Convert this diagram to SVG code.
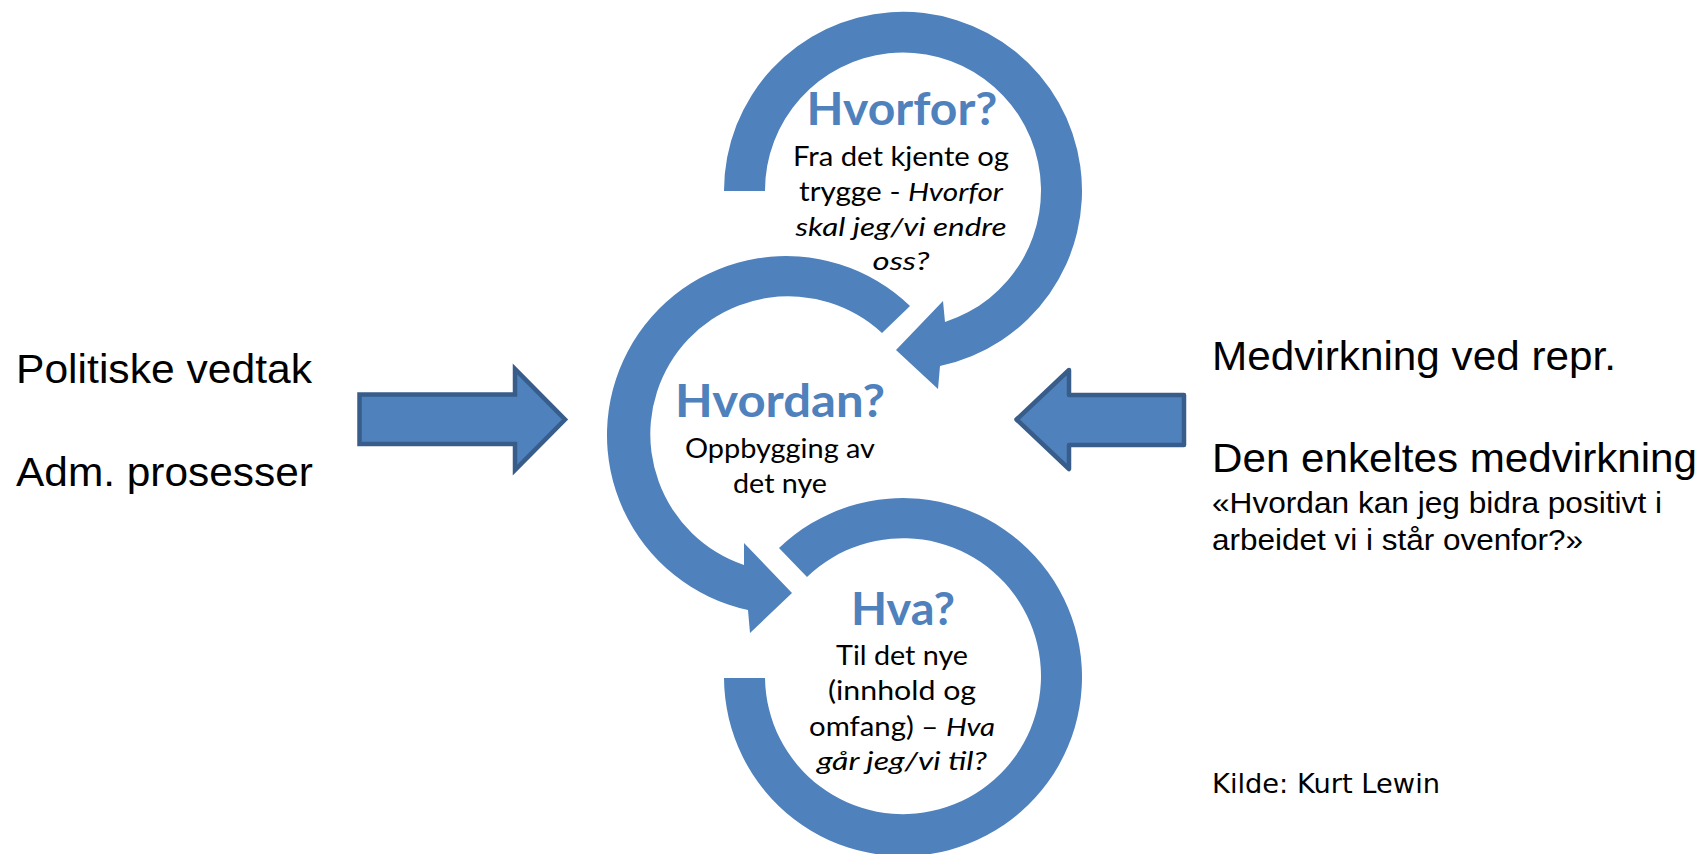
<svg xmlns="http://www.w3.org/2000/svg" width="1704" height="854" viewBox="0 0 1704 854">
  <style>
    .ring { fill: #4F81BD; stroke: none; }
    .block { fill: #4F81BD; stroke: #385D8A; stroke-width: 4.5; stroke-linejoin: miter; }
    .head { font-family: Lato, "Liberation Sans", sans-serif; font-weight: bold; font-size: 45px; fill: #4F81BD; text-anchor: middle; }
    .body { font-family: Lato, "Liberation Sans", sans-serif; font-size: 26px; fill: #000; text-anchor: middle; }
    .it { font-style: italic; }
    .big { font-family: "Liberation Sans", Arial, sans-serif; font-size: 40.5px; fill: #000; }
    .quote { font-family: "Liberation Sans", Arial, sans-serif; font-size: 29px; fill: #000; }
    .src { font-family: "DejaVu Sans", Verdana, sans-serif; font-size: 27px; fill: #000; }
  </style>
  <rect width="1704" height="854" fill="#ffffff"/>

  <g id="connectors">
    <path class="ring" d="M 724,191 A 179,179 0 1 1 940,366 L 938,389 L 896,350 L 943,301 L 945,322 A 138,138 0 1 0 765,191 Z"/>
    <path class="ring" d="M 910,306 A 179,179 0 1 0 748,610 L 750,633 L 792,593 L 744,543 L 744,565 A 138,138 0 1 1 882,333 Z"/>
    <path class="ring" d="M 724,678 A 179,179 0 1 0 779,548 L 807,577 A 138,138 0 1 1 765,678 Z"/>
    <path class="block" d="M 359.5,394.5 L 515,394.5 L 515,369 L 565,419.5 L 515,470 L 515,444 L 359.5,444 Z"/>
    <path class="block" style="stroke-linejoin:round" d="M 1184,395 L 1069,395 L 1069,370 L 1016.5,419.5 L 1069,469 L 1069,445 L 1184,445 Z"/>
  </g>

  <g id="node-hvorfor">
    <text class="head" x="902" y="125" textLength="191" lengthAdjust="spacingAndGlyphs">Hvorfor?</text>
    <text class="body" x="901" y="166" textLength="216" lengthAdjust="spacingAndGlyphs">Fra det kjente og</text>
    <text class="body" x="901" y="201" textLength="204" lengthAdjust="spacingAndGlyphs">trygge - <tspan class="it">Hvorfor</tspan></text>
    <text class="body it" x="901" y="236" textLength="211" lengthAdjust="spacingAndGlyphs">skal jeg/vi endre</text>
    <text class="body it" x="901" y="270" textLength="57" lengthAdjust="spacingAndGlyphs">oss?</text>
  </g>

  <g id="node-hvordan">
    <text class="head" x="780" y="417" textLength="210" lengthAdjust="spacingAndGlyphs">Hvordan?</text>
    <text class="body" x="780" y="458" textLength="190" lengthAdjust="spacingAndGlyphs">Oppbygging av</text>
    <text class="body" x="780" y="493" textLength="94" lengthAdjust="spacingAndGlyphs">det nye</text>
  </g>

  <g id="node-hva">
    <text class="head" x="903" y="625" textLength="104" lengthAdjust="spacingAndGlyphs">Hva?</text>
    <text class="body" x="902" y="665" textLength="132" lengthAdjust="spacingAndGlyphs">Til det nye</text>
    <text class="body" x="902" y="700" textLength="148" lengthAdjust="spacingAndGlyphs">(innhold og</text>
    <text class="body" x="902" y="736" textLength="186" lengthAdjust="spacingAndGlyphs">omfang) – <tspan class="it">Hva</tspan></text>
    <text class="body it" x="902" y="770" textLength="170" lengthAdjust="spacingAndGlyphs">går jeg/vi til?</text>
  </g>

  <g id="node-left">
    <text class="big" x="16" y="383" textLength="296" lengthAdjust="spacingAndGlyphs">Politiske vedtak</text>
    <text class="big" x="16" y="486" textLength="297" lengthAdjust="spacingAndGlyphs">Adm. prosesser</text>
  </g>

  <g id="node-right">
    <text class="big" x="1212" y="370" textLength="404" lengthAdjust="spacingAndGlyphs">Medvirkning ved repr.</text>
    <text class="big" x="1212" y="472" textLength="485" lengthAdjust="spacingAndGlyphs">Den enkeltes medvirkning</text>
    <text class="quote" x="1212" y="513" textLength="450" lengthAdjust="spacingAndGlyphs">«Hvordan kan jeg bidra positivt i</text>
    <text class="quote" x="1212" y="550" textLength="371" lengthAdjust="spacingAndGlyphs">arbeidet vi i står ovenfor?»</text>
  </g>

  <g id="node-source">
    <text class="src" x="1212" y="793" textLength="228" lengthAdjust="spacingAndGlyphs">Kilde: Kurt Lewin</text>
  </g>
</svg>
